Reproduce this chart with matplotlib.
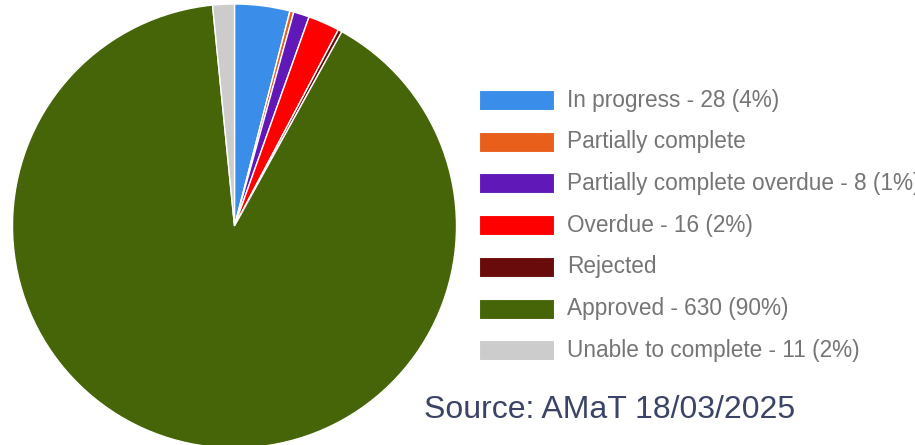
import matplotlib
matplotlib.use('Agg')
import matplotlib.pyplot as plt
from matplotlib.patches import Rectangle

# Action status counts
labels = ['In progress', 'Partially complete', 'Partially complete overdue',
          'Overdue', 'Rejected', 'Approved', 'Unable to complete']
counts = [28, 2, 8, 16, 2, 630, 11]
legend_text = ['In progress - 28 (4%)', 'Partially complete',
               'Partially complete overdue - 8 (1%)', 'Overdue - 16 (2%)',
               'Rejected', 'Approved - 630 (90%)', 'Unable to complete - 11 (2%)']
colors = ['#3a8de8', '#e85f1c', '#6019b8', '#ff0000', '#6a0b0b', '#466408', '#cccccc']

W, H = 915, 445
fig = plt.figure(figsize=(W / 100, H / 100), dpi=100)
ax = fig.add_axes([0, 0, 1, 1])
ax.set_xlim(0, W)
ax.set_ylim(0, H)
ax.axis('off')

# pie in pixel units, y measured from the bottom
ax.pie(counts, colors=colors, startangle=90, counterclock=False,
       center=(234.5, H - 226), radius=222,
       wedgeprops=dict(edgecolor='white', linewidth=1))
ax.set_xlim(0, W)
ax.set_ylim(0, H)
ax.set_aspect('auto')

# legend column
for i, (txt, c) in enumerate(zip(legend_text, colors)):
    yc = H - (100 + i * 41.7)
    ax.add_patch(Rectangle((479, yc - 10), 75, 20, facecolor=c,
                           edgecolor='white', linewidth=0.8, clip_on=False))
    ax.text(567, yc, txt, fontsize=16.3, color='#757575', va='center',
            ha='left', family='Liberation Sans', clip_on=False)

ax.text(424, H - 418, 'Source: AMaT 18/03/2025', fontsize=23, color='#3b4466',
        ha='left', va='baseline', family='Liberation Sans')

fig.savefig('out.png', dpi=100)
